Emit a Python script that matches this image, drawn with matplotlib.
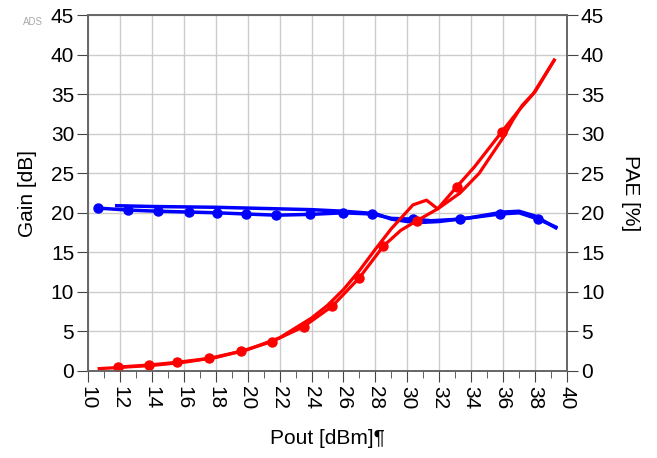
#!/usr/bin/env python3

import numpy as np
import matplotlib.pyplot as plt
from matplotlib.ticker import MultipleLocator

plt.rcParams['font.family'] = ['Liberation Sans', 'DejaVu Sans']

# gain, sweep with markers
gain_a_x = [10.6, 12.5, 14.4, 16.3, 18.1, 19.9, 21.8, 23.9, 26.0, 27.8, 29.0,
            30.35, 31.5, 33.3, 35.8, 37.0, 38.2, 39.3]
gain_a_y = [20.6, 20.35, 20.2, 20.1, 20.0, 19.85, 19.7, 19.8, 20.0, 19.85, 19.3,
            19.2, 19.0, 19.2, 19.85, 20.0, 19.2, 18.2]
gain_a_mark = [10.6, 12.5, 14.4, 16.3, 18.1, 19.9, 21.8, 23.9, 26.0, 27.8,
               30.35, 33.3, 35.8, 38.2]

# gain, sweep without markers
gain_b_x = [11.8, 14, 16, 18, 20, 22, 24, 26, 28, 29, 30, 31, 32, 34, 36, 37,
            38, 39.3]
gain_b_y = [20.9, 20.8, 20.75, 20.7, 20.6, 20.5, 20.4, 20.2, 19.9, 19.2, 18.9,
            18.8, 18.9, 19.4, 20.1, 20.2, 19.6, 18.1]

# PAE, sweep with markers
pae_a_x = [11.9, 13.8, 15.6, 17.6, 19.6, 21.5, 23.5, 25.3, 27.0, 28.5, 29.6,
           30.6, 31.9, 33.1, 34.2, 35.9, 37.0, 38.0, 39.2]
pae_a_y = [0.5, 0.75, 1.1, 1.6, 2.5, 3.7, 5.6, 8.2, 11.8, 15.8, 17.8,
           19.0, 20.5, 23.3, 25.8, 30.2, 33.0, 35.3, 39.3]
pae_a_mark = [11.9, 13.8, 15.6, 17.6, 19.6, 21.5, 23.5, 25.3, 27.0, 28.5,
              30.6, 33.1, 35.9]

# PAE, sweep without markers
pae_b_x = [10.7, 12, 14, 16, 18, 20, 22, 24, 25, 26, 27, 28, 29, 29.5, 30.35,
           31.2, 31.9, 33.3, 34.5, 36.0, 36.6, 37.2, 37.9, 39.2]
pae_b_y = [0.3, 0.45, 0.7, 1.1, 1.7, 2.7, 4.2, 6.7, 8.3, 10.3, 12.7, 15.4,
           18.0, 19.1, 21.0, 21.6, 20.5, 22.5, 25.0, 29.5, 31.7, 33.6, 35.1, 39.3]

fig = plt.figure(figsize=(6.57, 4.58), dpi=100)
ax = fig.add_axes([0.134, 0.19, 0.729, 0.777])
ax2 = ax.twinx()

blue = '#0000ff'
red = '#ff0000'

ax.plot(gain_b_x, gain_b_y, color=blue, lw=2.5)
ax.plot(gain_a_x, gain_a_y, color=blue, lw=2.5)
ax.plot(gain_a_mark, np.interp(gain_a_mark, gain_a_x, gain_a_y), 'o',
        color=blue, ms=6.5)

ax2.plot(pae_b_x, pae_b_y, color=red, lw=2.3)
ax2.plot(pae_a_x, pae_a_y, color=red, lw=2.3)
ax2.plot(pae_a_mark, np.interp(pae_a_mark, pae_a_x, pae_a_y), 'o',
         color=red, ms=6.5)

for a in (ax, ax2):
    a.set_xlim(10, 40)
    a.set_ylim(0, 45)
    a.yaxis.set_major_locator(MultipleLocator(5))
    for s in a.spines.values():
        s.set_color('#666666')
        s.set_linewidth(1.2)

ax.xaxis.set_major_locator(MultipleLocator(2))
ax.xaxis.set_minor_locator(MultipleLocator(1))
ax.grid(True, which='major', color='#cccccc', lw=1)
ax.set_axisbelow(True)

ax.tick_params(axis='x', which='major', length=8, color='#444444',
               labelsize=15, rotation=-90, pad=3)
ax.tick_params(axis='x', which='minor', length=5, color='#444444')
ax.tick_params(axis='y', length=8, color='#444444', labelsize=15, pad=2)
ax2.tick_params(axis='y', length=8, color='#444444', labelsize=15, pad=2)

ax.set_xlabel('Pout [dBm]¶', fontsize=15, labelpad=14)
ax.set_ylabel('Gain [dB]', fontsize=15, labelpad=10)
ax2.set_ylabel('PAE [%]', fontsize=15, rotation=-90, labelpad=26)

fig.text(0.035, 0.945, 'ADS', fontsize=7, color='#aaaaaa')

plt.savefig('out.png', dpi=100)
